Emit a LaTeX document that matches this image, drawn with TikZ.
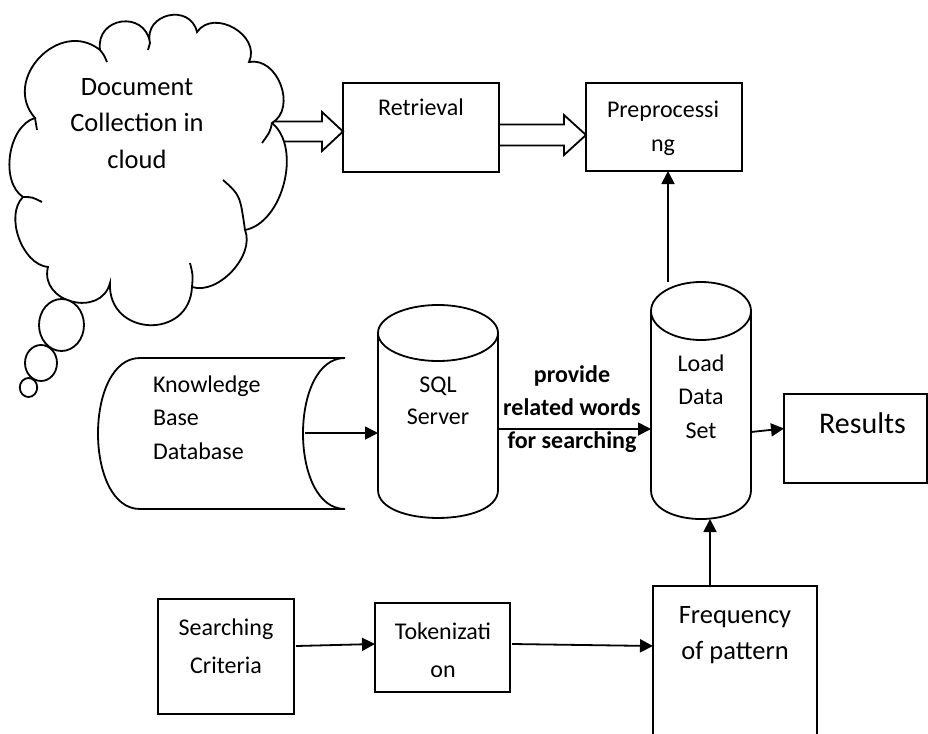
\documentclass[tikz,border=0pt]{standalone}
\usepackage{fontspec}
\setmainfont{Carlito}
\usetikzlibrary{arrows.meta,calc}
\begin{document}
\begin{tikzpicture}[x=1pt,y=-1pt,
  every node/.style={inner sep=0pt, outer sep=0pt},
  ln/.style={line width=1.8pt},
  box/.style={draw, line width=1.8pt, rectangle},
  txt/.style={font=\fontsize{24}{#1}\selectfont, align=center},
  txt/.default=35,
  bigtxt/.style={font=\fontsize{26.5}{#1}\selectfont, align=center},
  arr/.style={line width=1.8pt, -{Triangle[length=13pt,width=13pt]}},
  blockarr/.style={draw, line width=1.8pt, fill=white, line join=miter},
]
\useasboundingbox (0,0) rectangle (928,733);
\clip (0,0) rectangle (928,733);

% ---- boxes ----
\node[box, minimum width=156, minimum height=89] (ret) at (421,127.5) {};
\node[txt] (rett) at (421,107.5) {Retrieval};
\node[box, minimum width=156, minimum height=88] (pre) at (664,127) {};
\node[txt=34.5] (pret) at (663,128.5) {Preprocessi\\ng};
\node[box, minimum width=143, minimum height=89] (res) at (855.5,438.5) {};
\node[font=\fontsize{30}{34}\selectfont] (rest) at (862.5,423.5) {Results};
\node[box, minimum width=136, minimum height=115] (search) at (226,656.5) {};
\node[txt=37.7] (searcht) at (226,646) {Searching\\Criteria};
\node[box, minimum width=135, minimum height=89] (tok) at (442.5,647.5) {};
\node[txt=37.7] (tokt) at (443,650) {Tokenizati\\on};
\node[box, minimum width=164, minimum height=174] (freq) at (735,673) {};
\node[bigtxt=36] (freqt) at (735,635) {Frequency\\of pattern};

% ---- block arrows ----
\path ($(ret.west)+(0,4)$) coordinate (t1);
\draw[blockarr] (t1) -- ++(-21,-19.5) -- ++(0,9.5) -- ++(-70,0) -- ++(0,20) -- ++(70,0) -- ++(0,9.5) -- cycle;
\path ($(pre.west)+(0,8)$) coordinate (t2);
\draw[blockarr] (t2) -- ++(-22,-20) -- ++(0,9.5) -- ++(-65,0) -- ++(0,21) -- ++(65,0) -- ++(0,9.5) -- cycle;

% ---- cloud ----
\draw[ln, fill=white] (35,118) to[bend left=85, looseness=1.4] (100,50)
  to[bend left=90, looseness=1.7] (150,43)
  to[bend left=90, looseness=1.6] (197,32)
  to[bend left=85, looseness=1.25] (249,62)
  to[bend left=80, looseness=1.15] (272,123)
  to[bend left=65, looseness=0.9] (245,230)
  to[bend left=65, looseness=0.9] (192,287)
  to[bend left=90, looseness=1.67] (110,283)
  to[bend left=90, looseness=1.46] (48,267)
  to[bend left=65, looseness=0.9] (23,197)
  to[bend left=65, looseness=0.9] (35,118) -- cycle;
\draw[ln] (272,123) .. controls (270,132) .. (262,143);
\draw[ln] (223,180) .. controls (240,195) .. (245,230);
\draw[ln] (192,287) .. controls (193,275) .. (190,263);
\draw[ln] (23,197) .. controls (32,197) .. (42,202);
\draw[ln] (100,50) .. controls (104,55) .. (107,62);
\draw[ln] (35,118) .. controls (36,124) .. (37,130);
\draw[ln] (150,43) .. controls (149,46) .. (148,50);
\draw[ln, fill=white] (61.5,325) ellipse [x radius=22.5, y radius=26];
\draw[ln, fill=white] (41,363) ellipse [x radius=16, y radius=18];
\draw[ln, fill=white] (28.5,387.5) ellipse [x radius=8.7, y radius=9.5];
\node[bigtxt=36.5] (cloud) at (137,123.5) {Document\\Collection in\\cloud};

% ---- knowledge base (stored data) ----
\draw[ln] (140,358) -- (345,358) .. controls (289,358) and (289,509) .. (345,509)
  -- (140,509) .. controls (84,509) and (84,358) .. (140,358) -- cycle;
\node[txt=33.5, align=left, anchor=west] (kb) at (153,417.5) {Knowledge\\Base\\Database};
\coordinate (kbout) at (305,433);

% ---- SQL server cylinder ----
\draw[ln, fill=white] (378,333) -- (378,490) .. controls (378,527.3) and (498,527.3) .. (498,490) -- (498,333);
\draw[ln] (438,333) ellipse [x radius=60, y radius=28];
\node[minimum width=120, minimum height=213] (sql) at (438,411.5) {};
\node[txt=32] (sqlt) at (438,400.5) {SQL\\Server};

% ---- Load data set cylinder ----
\draw[ln, fill=white] (651,311) -- (651,490) .. controls (651,528.7) and (751,528.7) .. (751,490) -- (751,311);
\draw[ln] (701,311) ellipse [x radius=50, y radius=29];
\node[minimum width=100, minimum height=237] (load) at (701,400.5) {};
\node[txt=33.3] (loadt) at (701,396.5) {Load\\Data\\Set};

% ---- label ----
\node[font=\fontsize{24}{33}\selectfont\bfseries, align=center] (lab) at (572,409.5) {provide\\related words\\for searching};

% ---- connectors ----
\draw[arr] (kbout) -- (kbout -| sql.west);
\draw[arr] ($(sql.east)+(0,17.5)$) -- ($(load.west)+(0,28.5)$);
\draw[arr] ($(load.east)+(0,31.5)$) -- ($(res.west)+(0,-10)$);
\draw[arr] ($(load.north)+(-33,0)$) -- ($(pre.south)+(4,0)$);
\draw[arr] ($(freq.north)+(-25,0)$) -- ($(load.south)+(9,0)$);
\draw[arr] ($(search.east)+(2,-10.5)$) -- ($(tok.west)+(0,-3.5)$);
\draw[arr] ($(tok.east)+(2,-3.5)$) -- ($(freq.west)+(0,-27)$);
\end{tikzpicture}
\end{document}
